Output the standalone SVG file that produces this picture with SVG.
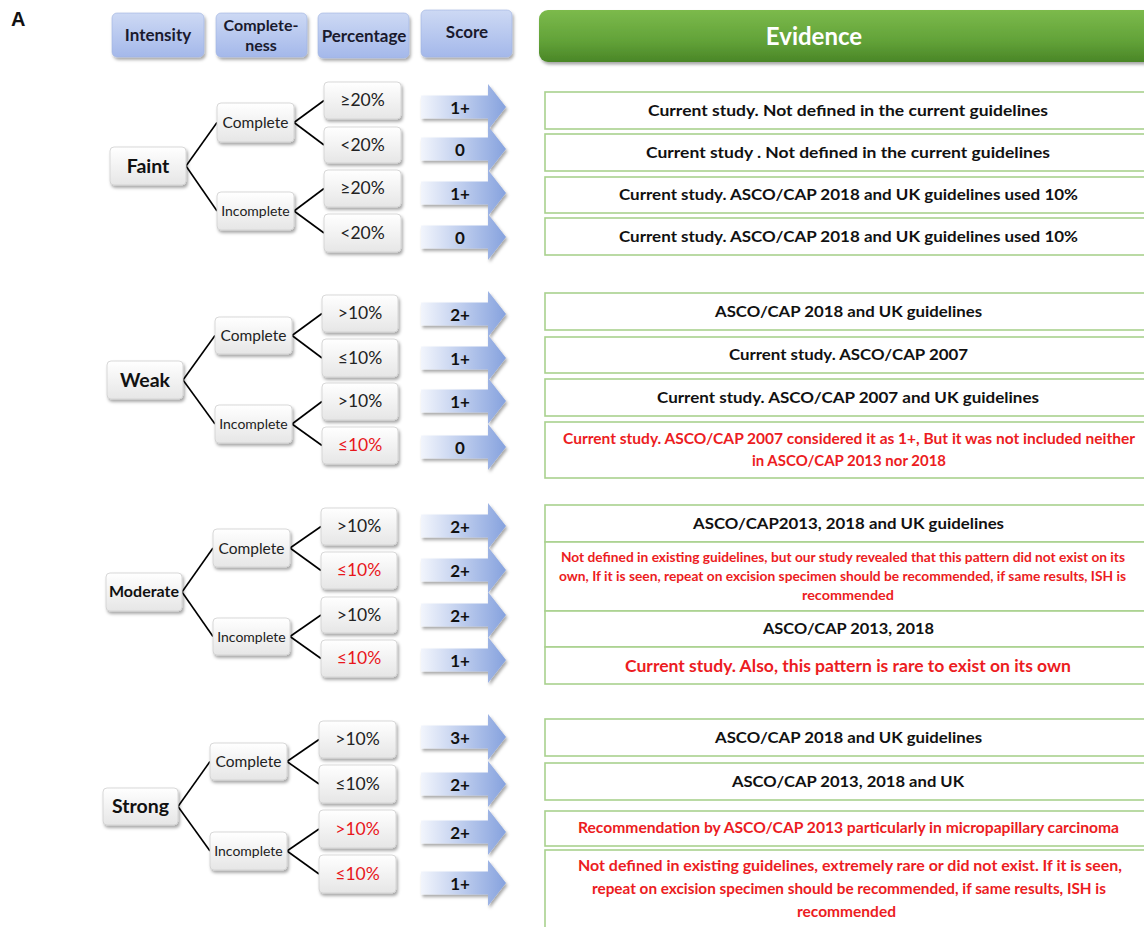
<svg xmlns="http://www.w3.org/2000/svg" width="1144" height="927" viewBox="0 0 1144 927">
<style>
text { font-family: Lato, "Open Sans", "Liberation Sans", sans-serif; }
.hd { font-weight:700; font-size:17px; fill:#1a1a2e; text-anchor:middle; }
.lvl { font-weight:700; font-size:19.5px; fill:#111; text-anchor:middle; }
.cmp { font-size:15.5px; fill:#222; text-anchor:middle; }
.inc { font-size:14px; fill:#222; text-anchor:middle; }
.pct { font-size:17.5px; fill:#222; text-anchor:middle; }
.red { fill:#e8161b; }
.sc { font-weight:700; font-size:17px; fill:#111; text-anchor:middle; }
.ev { font-weight:700; font-size:16px; fill:#111; }
.evr { fill:#ec1c22; }
.node { fill:url(#gNode); stroke:#cfcfcf; stroke-width:0.8; filter:url(#sh); }
.hbox { fill:url(#gHdr); stroke:#9fb3e0; stroke-width:0.6; filter:url(#sh); }
.evb { fill:#fff; stroke:#a9d18e; stroke-width:1.6; }
.arr { fill:url(#gArr); filter:url(#sh); }
#connectors line { stroke:#000; stroke-width:1.6; }
</style>
<defs>
<linearGradient id="gNode" x1="0" y1="0" x2="0" y2="1"><stop offset="0" stop-color="#ffffff"/><stop offset="1" stop-color="#e6e6e6"/></linearGradient>
<linearGradient id="gHdr" x1="0" y1="0" x2="0" y2="1"><stop offset="0" stop-color="#cdd9f4"/><stop offset="1" stop-color="#a4b8ea"/></linearGradient>
<linearGradient id="gEv" x1="0" y1="0" x2="0" y2="1"><stop offset="0" stop-color="#7cba4c"/><stop offset="0.6" stop-color="#62a238"/><stop offset="1" stop-color="#4a8627"/></linearGradient>
<linearGradient id="gArr" x1="0" y1="0" x2="1" y2="0"><stop offset="0" stop-color="#f2f5fc"/><stop offset="1" stop-color="#86a2de"/></linearGradient>
<filter id="sh" x="-10%" y="-20%" width="130%" height="160%"><feDropShadow dx="1.5" dy="2.5" stdDeviation="1.5" flood-color="#000" flood-opacity="0.35"/></filter>
<path id="arrowShape" d="M421,-11.5 H488 V-23 L506,0 L488,23 V11.5 H421 Z"/>
</defs>
<rect width="1144" height="927" fill="#fff"/>
<text x="11" y="26" style="font-family:'Liberation Sans',Arial,sans-serif;font-weight:700;font-size:20px;fill:#111">A</text>

<!-- headers -->
<g id="hdr-intensity"><rect class="hbox" x="112" y="13" width="92" height="44" rx="5"/><text class="hd" x="158" y="41">Intensity</text></g>
<g id="hdr-completeness"><rect class="hbox" x="216" y="13" width="91" height="44" rx="5"/><text class="hd" style="font-size:16px" x="261" y="31">Complete-</text><text class="hd" style="font-size:16px" x="261" y="50.5">ness</text></g>
<g id="hdr-percentage"><rect class="hbox" x="318" y="13" width="91" height="45" rx="5"/><text class="hd" x="364" y="42">Percentage</text></g>
<g id="hdr-score"><rect class="hbox" x="421" y="10" width="91" height="47" rx="5"/><text class="hd" x="467" y="38">Score</text></g>
<g id="hdr-evidence"><rect x="539" y="10" width="620" height="52" rx="9" fill="url(#gEv)" filter="url(#sh)"/><text x="814" y="45" style="font-weight:700;font-size:24px;fill:#fff;text-anchor:middle">Evidence</text></g>

<!-- connectors -->
<g id="connectors">
<line x1="186" y1="166" x2="217" y2="122.5"/><line x1="186" y1="166" x2="217" y2="211"/>
<line x1="294" y1="122.5" x2="324" y2="100.5"/><line x1="294" y1="122.5" x2="324" y2="145"/>
<line x1="294" y1="211" x2="324" y2="188.5"/><line x1="294" y1="211" x2="324" y2="233"/>
<line x1="183" y1="380" x2="215" y2="335.5"/><line x1="183" y1="380" x2="215" y2="424"/>
<line x1="292" y1="335.5" x2="322" y2="313.5"/><line x1="292" y1="335.5" x2="322" y2="358"/>
<line x1="292" y1="424" x2="322" y2="401.5"/><line x1="292" y1="424" x2="322" y2="445.5"/>
<line x1="182" y1="592" x2="213" y2="548"/><line x1="182" y1="592" x2="213" y2="636.5"/>
<line x1="290" y1="548" x2="321" y2="526.5"/><line x1="290" y1="548" x2="321" y2="570.5"/>
<line x1="290" y1="636.5" x2="321" y2="615"/><line x1="290" y1="636.5" x2="321" y2="658.5"/>
<line x1="178" y1="806.5" x2="210" y2="761.5"/><line x1="178" y1="806.5" x2="210" y2="851"/>
<line x1="287" y1="761.5" x2="319" y2="739.5"/><line x1="287" y1="761.5" x2="319" y2="784"/>
<line x1="287" y1="851" x2="319" y2="829"/><line x1="287" y1="851" x2="319" y2="874"/>
</g>

<!-- Faint -->
<g id="faint"><rect class="node" x="110" y="147" width="76" height="38" rx="4"/><text class="lvl" x="148" y="173">Faint</text></g>
<g id="faint-complete"><rect class="node" x="217" y="103" width="77" height="39" rx="4"/><text class="cmp" x="255.5" y="128">Complete</text></g>
<g id="faint-incomplete"><rect class="node" x="217" y="192" width="77" height="38" rx="4"/><text class="inc" x="255.5" y="216">Incomplete</text></g>
<g id="faint-c-hi"><rect class="node" x="324" y="82" width="77" height="37" rx="4"/><text class="pct" x="362.5" y="106">≥20%</text></g>
<g id="faint-c-lo"><rect class="node" x="324" y="127" width="77" height="36" rx="4"/><text class="pct" x="362.5" y="151">&lt;20%</text></g>
<g id="faint-i-hi"><rect class="node" x="324" y="170" width="77" height="37" rx="4"/><text class="pct" x="362.5" y="194">≥20%</text></g>
<g id="faint-i-lo"><rect class="node" x="324" y="214" width="77" height="38" rx="4"/><text class="pct" x="362.5" y="239">&lt;20%</text></g>
<g id="faint-s1"><use class="arr" href="#arrowShape" y="107"/><text class="sc" x="460" y="114">1+</text></g>
<g id="faint-s2"><use class="arr" href="#arrowShape" y="149"/><text class="sc" x="460" y="156">0</text></g>
<g id="faint-s3"><use class="arr" href="#arrowShape" y="193"/><text class="sc" x="460" y="200">1+</text></g>
<g id="faint-s4"><use class="arr" href="#arrowShape" y="237"/><text class="sc" x="460" y="244">0</text></g>
<g id="faint-e1"><rect class="evb" x="545" y="92" width="610" height="37"/><text class="ev" x="648" y="116" textLength="400" lengthAdjust="spacingAndGlyphs">Current study. Not defined in the current guidelines</text></g>
<g id="faint-e2"><rect class="evb" x="545" y="134" width="610" height="37"/><text class="ev" x="646" y="158" textLength="404" lengthAdjust="spacingAndGlyphs">Current study . Not defined in the current guidelines</text></g>
<g id="faint-e3"><rect class="evb" x="545" y="177" width="610" height="36"/><text class="ev" x="619" y="200" textLength="459" lengthAdjust="spacingAndGlyphs">Current study. ASCO/CAP 2018 and UK guidelines used 10%</text></g>
<g id="faint-e4"><rect class="evb" x="545" y="218" width="610" height="37"/><text class="ev" x="619" y="242" textLength="459" lengthAdjust="spacingAndGlyphs">Current study. ASCO/CAP 2018 and UK guidelines used 10%</text></g>

<!-- Weak -->
<g id="weak"><rect class="node" x="107" y="361" width="76" height="38" rx="4"/><text class="lvl" x="145" y="387">Weak</text></g>
<g id="weak-complete"><rect class="node" x="215" y="317" width="77" height="37" rx="4"/><text class="cmp" x="253.5" y="341">Complete</text></g>
<g id="weak-incomplete"><rect class="node" x="215" y="405" width="77" height="38" rx="4"/><text class="inc" x="253.5" y="429">Incomplete</text></g>
<g id="weak-c-hi"><rect class="node" x="322" y="295" width="76" height="37" rx="4"/><text class="pct" x="360" y="319">&gt;10%</text></g>
<g id="weak-c-lo"><rect class="node" x="322" y="339" width="76" height="38" rx="4"/><text class="pct" x="360" y="364">≤10%</text></g>
<g id="weak-i-hi"><rect class="node" x="322" y="383" width="76" height="37" rx="4"/><text class="pct" x="360" y="407">&gt;10%</text></g>
<g id="weak-i-lo"><rect class="node" x="322" y="427" width="76" height="37" rx="4"/><text class="pct red" x="360" y="451">≤10%</text></g>
<g id="weak-s1"><use class="arr" href="#arrowShape" y="314"/><text class="sc" x="460" y="321">2+</text></g>
<g id="weak-s2"><use class="arr" href="#arrowShape" y="358"/><text class="sc" x="460" y="365">1+</text></g>
<g id="weak-s3"><use class="arr" href="#arrowShape" y="401"/><text class="sc" x="460" y="408">1+</text></g>
<g id="weak-s4"><use class="arr" href="#arrowShape" y="447"/><text class="sc" x="460" y="454">0</text></g>
<g id="weak-e1"><rect class="evb" x="545" y="293" width="610" height="37"/><text class="ev" x="715" y="317" textLength="267" lengthAdjust="spacingAndGlyphs">ASCO/CAP 2018 and UK guidelines</text></g>
<g id="weak-e2"><rect class="evb" x="545" y="337" width="610" height="36"/><text class="ev" x="729" y="360" textLength="239" lengthAdjust="spacingAndGlyphs">Current study. ASCO/CAP 2007</text></g>
<g id="weak-e3"><rect class="evb" x="545" y="379" width="610" height="37"/><text class="ev" x="657" y="403" textLength="382" lengthAdjust="spacingAndGlyphs">Current study. ASCO/CAP 2007 and UK guidelines</text></g>
<g id="weak-e4"><rect class="evb" x="545" y="422" width="610" height="56"/><text class="ev evr" style="font-size:14.5px" x="563" y="444" textLength="572" lengthAdjust="spacingAndGlyphs">Current study. ASCO/CAP 2007 considered it as 1+, But it was not included neither</text><text class="ev evr" style="font-size:14.5px" x="752" y="466" textLength="194" lengthAdjust="spacingAndGlyphs">in ASCO/CAP 2013 nor 2018</text></g>

<!-- Moderate -->
<g id="moderate"><rect class="node" x="106" y="573" width="76" height="38" rx="4"/><text class="lvl" style="font-size:16px" x="144" y="597">Moderate</text></g>
<g id="moderate-complete"><rect class="node" x="213" y="529" width="77" height="38" rx="4"/><text class="cmp" x="251.5" y="554">Complete</text></g>
<g id="moderate-incomplete"><rect class="node" x="213" y="618" width="77" height="37" rx="4"/><text class="inc" x="251.5" y="642">Incomplete</text></g>
<g id="moderate-c-hi"><rect class="node" x="321" y="508" width="76" height="37" rx="4"/><text class="pct" x="359" y="532">&gt;10%</text></g>
<g id="moderate-c-lo"><rect class="node" x="321" y="552" width="76" height="37" rx="4"/><text class="pct red" x="359" y="576">≤10%</text></g>
<g id="moderate-i-hi"><rect class="node" x="321" y="597" width="76" height="36" rx="4"/><text class="pct" x="359" y="621">&gt;10%</text></g>
<g id="moderate-i-lo"><rect class="node" x="321" y="640" width="76" height="37" rx="4"/><text class="pct red" x="359" y="664">≤10%</text></g>
<g id="moderate-s1"><use class="arr" href="#arrowShape" y="526"/><text class="sc" x="460" y="533">2+</text></g>
<g id="moderate-s2"><use class="arr" href="#arrowShape" y="570"/><text class="sc" x="460" y="577">2+</text></g>
<g id="moderate-s3"><use class="arr" href="#arrowShape" y="615"/><text class="sc" x="460" y="622">2+</text></g>
<g id="moderate-s4"><use class="arr" href="#arrowShape" y="660"/><text class="sc" x="460" y="667">1+</text></g>
<g id="moderate-e1"><rect class="evb" x="545" y="505" width="610" height="37"/><text class="ev" x="693" y="529" textLength="311" lengthAdjust="spacingAndGlyphs">ASCO/CAP2013, 2018 and UK guidelines</text></g>
<g id="moderate-e2"><rect class="evb" x="545" y="542" width="610" height="69"/><text class="ev evr" style="font-size:13px" x="561" y="562" textLength="564" lengthAdjust="spacingAndGlyphs">Not defined in existing guidelines, but our study revealed that this pattern did not exist on its</text><text class="ev evr" style="font-size:13px" x="559" y="581" textLength="567" lengthAdjust="spacingAndGlyphs">own, If it is seen, repeat on excision specimen should be recommended, if same results, ISH is</text><text class="ev evr" style="font-size:13px" x="802" y="600" textLength="92" lengthAdjust="spacingAndGlyphs">recommended</text></g>
<g id="moderate-e3"><rect class="evb" x="545" y="611" width="610" height="36"/><text class="ev" x="763" y="634" textLength="171" lengthAdjust="spacingAndGlyphs">ASCO/CAP 2013, 2018</text></g>
<g id="moderate-e4"><rect class="evb" x="545" y="647" width="610" height="37"/><text class="ev evr" style="font-size:17px" x="625" y="672" textLength="446" lengthAdjust="spacingAndGlyphs">Current study. Also, this pattern is rare to exist on its own</text></g>

<!-- Strong -->
<g id="strong"><rect class="node" x="103" y="788" width="75" height="37" rx="4"/><text class="lvl" x="140.5" y="813">Strong</text></g>
<g id="strong-complete"><rect class="node" x="210" y="743" width="77" height="37" rx="4"/><text class="cmp" x="248.5" y="767">Complete</text></g>
<g id="strong-incomplete"><rect class="node" x="210" y="832" width="77" height="38" rx="4"/><text class="inc" x="248.5" y="856">Incomplete</text></g>
<g id="strong-c-hi"><rect class="node" x="319" y="721" width="77" height="37" rx="4"/><text class="pct" x="357.5" y="745">&gt;10%</text></g>
<g id="strong-c-lo"><rect class="node" x="319" y="765" width="77" height="38" rx="4"/><text class="pct" x="357.5" y="790">≤10%</text></g>
<g id="strong-i-hi"><rect class="node" x="319" y="810" width="77" height="38" rx="4"/><text class="pct red" x="357.5" y="835">&gt;10%</text></g>
<g id="strong-i-lo"><rect class="node" x="319" y="855" width="77" height="38" rx="4"/><text class="pct red" x="357.5" y="880">≤10%</text></g>
<g id="strong-s1"><use class="arr" href="#arrowShape" y="737"/><text class="sc" x="460" y="744">3+</text></g>
<g id="strong-s2"><use class="arr" href="#arrowShape" y="784"/><text class="sc" x="460" y="791">2+</text></g>
<g id="strong-s3"><use class="arr" href="#arrowShape" y="832"/><text class="sc" x="460" y="839">2+</text></g>
<g id="strong-s4"><use class="arr" href="#arrowShape" y="883"/><text class="sc" x="460" y="890">1+</text></g>
<g id="strong-e1"><rect class="evb" x="545" y="719" width="610" height="37"/><text class="ev" x="715" y="743" textLength="267" lengthAdjust="spacingAndGlyphs">ASCO/CAP 2018 and UK guidelines</text></g>
<g id="strong-e2"><rect class="evb" x="545" y="763" width="610" height="37"/><text class="ev" x="732" y="787" textLength="232" lengthAdjust="spacingAndGlyphs">ASCO/CAP 2013, 2018 and UK</text></g>
<g id="strong-e3"><rect class="evb" x="545" y="811" width="610" height="35"/><text class="ev evr" style="font-size:15px" x="578" y="833" textLength="541" lengthAdjust="spacingAndGlyphs">Recommendation by ASCO/CAP 2013 particularly in micropapillary carcinoma</text></g>
<g id="strong-e4"><rect class="evb" x="545" y="850" width="610" height="82"/><text class="ev evr" style="font-size:15px" x="578" y="871" textLength="544" lengthAdjust="spacingAndGlyphs">Not defined in existing guidelines, extremely rare or did not exist. If it is seen,</text><text class="ev evr" style="font-size:15px" x="592" y="894" textLength="514" lengthAdjust="spacingAndGlyphs">repeat on excision specimen should be recommended, if same results, ISH is</text><text class="ev evr" style="font-size:15px" x="797" y="917" textLength="99" lengthAdjust="spacingAndGlyphs">recommended</text></g>
</svg>
